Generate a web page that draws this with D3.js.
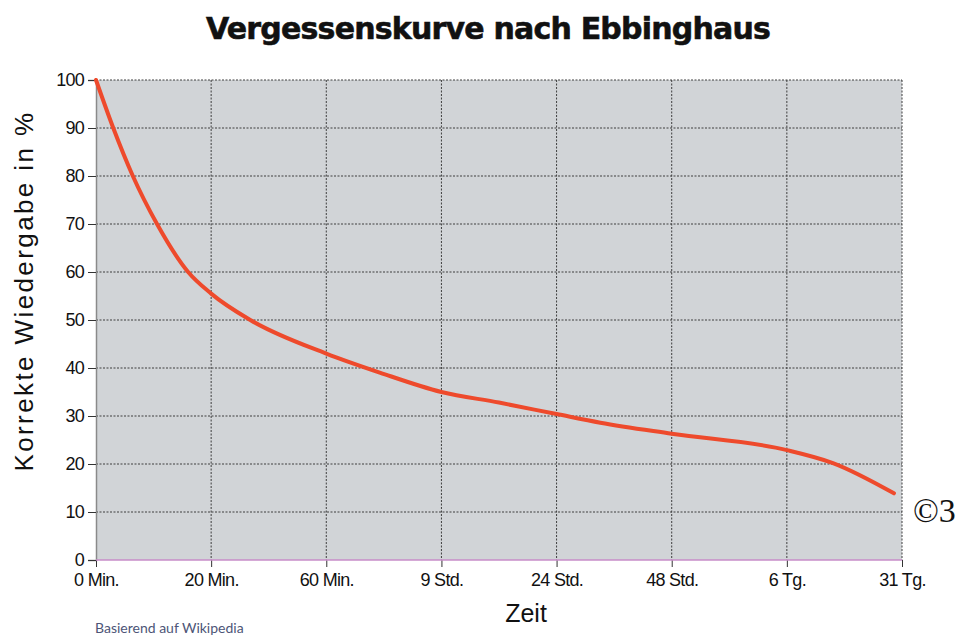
<!DOCTYPE html>
<html>
<head>
<meta charset="utf-8">
<script src="https://cdn.jsdelivr.net/npm/d3@7"></script>
<style>
  body { margin: 0; background: #fff; }
  text { font-family: "Liberation Sans", Arial, sans-serif; fill: #111; }
</style>
</head>
<body>
<div id="chart"></div>
<script>
// Time labels on the x axis (equally spaced categories)
const timeLabels = ["0 Min.", "20 Min.", "60 Min.", "9 Std.", "24 Std.", "48 Std.", "6 Tg.", "31 Tg."];
const yTicks = [0, 10, 20, 30, 40, 50, 60, 70, 80, 90, 100];

// Curve: position in label units, retention in %
const curvePos = [0, 0.15, 0.32, 0.53, 0.8, 1.0, 1.34, 2.0, 2.47, 3.0, 3.5, 4.0, 4.38, 5.0, 6.0, 6.4, 6.93];
const curveVal = [100, 90, 80, 70, 60, 55.5, 50, 43, 39, 35, 32.8, 30.4, 28.6, 26.3, 22.9, 20.2, 13.9];

const width = 965, height = 636;
const margins = { top: 80, right: 63, bottom: 76, left: 96 };
const innerW = width - margins.left - margins.right;
const innerH = height - margins.top - margins.bottom;

const svg = d3.select("#chart").append("svg")
    .attr("width", width)
    .attr("height", height);

const x = d3.scaleLinear().domain([0, timeLabels.length - 1]).range([0, innerW]);
const y = d3.scaleLinear().domain([0, 100]).range([innerH, 0]);

const g = svg.append("g")
    .attr("transform", `translate(${margins.left},${margins.top})`);

// plot background
g.append("rect")
    .attr("width", innerW)
    .attr("height", innerH)
    .attr("fill", "#d1d4d7");

// dotted grid
g.append("g").selectAll("line")
    .data(yTicks.filter(d => d > 0))
    .join("line")
    .attr("x1", 0).attr("x2", innerW)
    .attr("y1", d => y(d)).attr("y2", d => y(d))
    .attr("stroke", "#3e3e3e")
    .attr("stroke-width", 1)
    .attr("stroke-dasharray", "2,1.5");

g.append("g").selectAll("line")
    .data(d3.range(1, timeLabels.length))
    .join("line")
    .attr("x1", d => x(d)).attr("x2", d => x(d))
    .attr("y1", 0).attr("y2", innerH)
    .attr("stroke", "#3e3e3e")
    .attr("stroke-width", 1)
    .attr("stroke-dasharray", "2,1.5");

// y axis
const yAxis = g.append("g")
    .call(d3.axisLeft(y).tickValues(yTicks).tickSize(8).tickPadding(4));
yAxis.select(".domain").attr("stroke", "#8a8a8a").attr("stroke-width", 1.5);
yAxis.selectAll(".tick line").attr("stroke", "#333");
yAxis.selectAll(".tick text")
    .style("font-size", "18px")
    .style("letter-spacing", "-0.8px")
    .attr("fill", "#111");

// x axis
const xAxis = g.append("g")
    .attr("transform", `translate(0,${innerH})`)
    .call(d3.axisBottom(x).tickValues(d3.range(timeLabels.length))
        .tickFormat(i => timeLabels[i]).tickSize(7).tickPadding(6));
xAxis.select(".domain").remove();
xAxis.selectAll(".tick line").attr("stroke", "#333");
xAxis.selectAll(".tick text")
    .style("font-size", "18px")
    .style("letter-spacing", "-0.7px")
    .attr("fill", "#111");

g.append("line")
    .attr("x1", 0).attr("x2", innerW)
    .attr("y1", innerH).attr("y2", innerH)
    .attr("stroke", "#c78cc8")
    .attr("stroke-width", 1.5);

// forgetting curve
const line = d3.line()
    .x((d, i) => x(curvePos[i]))
    .y(d => y(d))
    .curve(d3.curveMonotoneX);

g.append("path")
    .datum(curveVal)
    .attr("d", line)
    .attr("fill", "none")
    .attr("stroke", "#ee4a2c")
    .attr("stroke-width", 4)
    .attr("stroke-linecap", "round");

// title
svg.append("text")
    .attr("x", 488)
    .attr("y", 39)
    .attr("text-anchor", "middle")
    .style("font-family", "'DejaVu Sans', sans-serif")
    .style("font-size", "30px")
    .style("font-weight", "bold")
    .style("letter-spacing", "-0.8px")
    .style("stroke", "#111")
    .style("stroke-width", "0.6px")
    .text("Vergessenskurve nach Ebbinghaus");

// axis titles
svg.append("text")
    .attr("transform", "translate(33,291) rotate(-90)")
    .attr("text-anchor", "middle")
    .style("font-size", "26px")
    .style("letter-spacing", "2.4px")
    .text("Korrekte Wiedergabe in %");

svg.append("text")
    .attr("x", 526)
    .attr("y", 622)
    .attr("text-anchor", "middle")
    .style("font-size", "25px")
    .text("Zeit");

svg.append("text")
    .attr("x", 913)
    .attr("y", 522)
    .style("font-family", "'Liberation Serif', serif")
    .style("font-size", "34px")
    .text("©3");

svg.append("text")
    .attr("x", 95)
    .attr("y", 633)
    .style("font-family", "Lato, sans-serif")
    .style("font-size", "14px")
    .style("fill", "#4d5577")
    .text("Basierend auf Wikipedia");
</script>
</body>
</html>
